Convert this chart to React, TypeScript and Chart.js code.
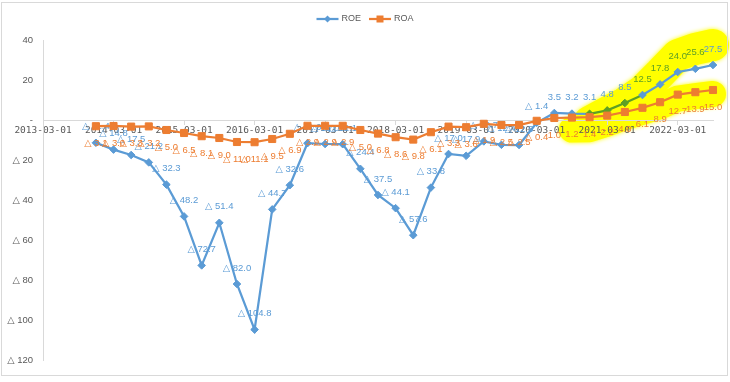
import React, { useEffect, useRef } from 'react';
import { Chart, registerables } from 'chart.js';

Chart.register(...registerables);

const categories = [
  '2013-03-01', '2013-06-01', '2013-09-01', '2013-12-01',
  '2014-03-01', '2014-06-01', '2014-09-01', '2014-12-01',
  '2015-03-01', '2015-06-01', '2015-09-01', '2015-12-01',
  '2016-03-01', '2016-06-01', '2016-09-01', '2016-12-01',
  '2017-03-01', '2017-06-01', '2017-09-01', '2017-12-01',
  '2018-03-01', '2018-06-01', '2018-09-01', '2018-12-01',
  '2019-03-01', '2019-06-01', '2019-09-01', '2019-12-01',
  '2020-03-01', '2020-06-01', '2020-09-01', '2020-12-01',
  '2021-03-01', '2021-06-01', '2021-09-01', '2021-12-01',
  '2022-03-01', '2022-06-01', '2022-09-01',
];

const roe: (number | null)[] = [
  null, null, null, -11.4,
  -14.8, -17.5, -21.2, -32.3,
  -48.2, -72.7, -51.4, -82.0,
  -104.8, -44.7, -32.6, -11.6,
  -12.0, -12.1, -24.4, -37.5,
  -44.1, -57.6, -33.8, -17.0,
  -17.9, -10.7, -12.4, -12.5,
  -1.4, 3.5, 3.2, 3.1,
  4.8, 8.5, 12.5, 17.8,
  24.0, 25.6, 27.5,
];

const roa: (number | null)[] = [
  null, null, null, -3.1,
  -3.0, -3.3, -3.2, -5.0,
  -6.5, -8.1, -9.0, -11.0,
  -11.1, -9.5, -6.9, -2.9,
  -2.9, -2.9, -5.0, -6.8,
  -8.6, -9.8, -6.1, -3.3,
  -3.6, -1.9, -2.5, -2.5,
  -0.4, 1.0, 1.2, 1.4,
  2.2, 4.0, 6.1, 8.9,
  12.7, 13.9, 15.0,
];

const yTicks = [40, 20, 0, -20, -40, -60, -80, -100, -120];
const seriesNames = ['ROE', 'ROA'];

// highlighted (green) part of the ROE line
const greenFrom = ['2020-12-01', '2021-03-01', '2021-06-01'];
const greenLabels = ['2021-09-01', '2021-12-01', '2022-03-01', '2022-06-01'];
// yellow highlighter ranges
const roeGlowStart = '2020-12-01';
const roaGlowStart = '2020-09-01';

const BLUE = '#5B9BD5';
const ORANGE = '#ED7D31';
const GREEN = '#5E9F25';
const YELLOW = '#FFFF00';
const GRAY_TEXT = '#595959';
const AXIS = '#D9D9D9';
const FONT = "'Liberation Sans', 'DejaVu Sans', sans-serif";

const fmtAxis = (v: number) => (v === 0 ? '-' : v < 0 ? '\u25B3 ' + Math.abs(v) : String(v));
const fmtLabel = (v: number) => (v < 0 ? '\u25B3 ' + Math.abs(v).toFixed(1) : v.toFixed(1));

export default function App() {
  const ref = useRef<HTMLCanvasElement | null>(null);

  useEffect(() => {
    if (!ref.current) return;
    const greenIdx = greenFrom.map((c) => categories.indexOf(c));
    const greenLblIdx = greenLabels.map((c) => categories.indexOf(c));

    const glowPlugin = {
      id: 'glow',
      beforeDraw(chart: any) {
        const ctx = chart.ctx;
        const draw = (dsIndex: number, start: number, offsets: number[], width: number) => {
          const meta = chart.getDatasetMeta(dsIndex);
          ctx.save();
          ctx.strokeStyle = YELLOW;
          ctx.lineWidth = width;
          ctx.lineJoin = 'round';
          ctx.lineCap = 'round';
          ctx.shadowColor = YELLOW;
          ctx.shadowBlur = 4;
          ctx.beginPath();
          for (let i = start, k = 0; i < meta.data.length; i++, k++) {
            const el = meta.data[i];
            const off = offsets[Math.min(k, offsets.length - 1)];
            if (k === 0) ctx.moveTo(el.x, el.y + off);
            else ctx.lineTo(el.x, el.y + off);
          }
          ctx.stroke();
          ctx.restore();
        };
        draw(1, categories.indexOf(roaGlowStart), [12, 12, 8, 5, 4, 4, 4, 4, 4], 26);
        draw(0, categories.indexOf(roeGlowStart), [8, 2, 0, -4, -11, -17, -20, -20], 32);
      },
    };

    const labelPlugin = {
      id: 'dlabels',
      afterDatasetDraw(chart: any, args: any) {
        const i = args.index;
        const meta = chart.getDatasetMeta(i);
        const data = chart.data.datasets[i].data as (number | null)[];
        const ctx = chart.ctx;
        ctx.save();
        ctx.font = `9.5px ${FONT}`;
        ctx.textAlign = 'center';
        ctx.textBaseline = 'middle';
        meta.data.forEach((el: any, j: number) => {
          const v = data[j];
          if (v === null || v === undefined) return;
          if (i === 0) {
            ctx.fillStyle = greenLblIdx.includes(j) ? GREEN : BLUE;
            ctx.fillText(fmtLabel(v), el.x, el.y - 16);
          } else {
            ctx.fillStyle = ORANGE;
            ctx.fillText(fmtLabel(v), el.x, el.y + 17);
          }
        });
        ctx.restore();
      },
    };

    const legendPlugin = {
      id: 'customLegend',
      afterDraw(chart: any) {
        const ctx = chart.ctx;
        ctx.save();
        ctx.font = `9px ${FONT}`;
        ctx.textBaseline = 'middle';
        const lineLen = 22;
        const gap = 3;
        const spacing = 8;
        const widths = seriesNames.map((n) => lineLen + gap + ctx.measureText(n).width);
        const total = widths.reduce((a, b) => a + b, 0) + spacing * (widths.length - 1);
        let x = chart.width / 2 - total / 2;
        const y = 19;
        seriesNames.forEach((n, k) => {
          const col = k === 0 ? BLUE : ORANGE;
          ctx.strokeStyle = col;
          ctx.lineWidth = 2.25;
          ctx.beginPath();
          ctx.moveTo(x, y);
          ctx.lineTo(x + lineLen, y);
          ctx.stroke();
          ctx.fillStyle = col;
          const cx = x + lineLen / 2;
          ctx.beginPath();
          if (k === 0) {
            ctx.moveTo(cx - 3.5, y);
            ctx.lineTo(cx, y - 3.5);
            ctx.lineTo(cx + 3.5, y);
            ctx.lineTo(cx, y + 3.5);
            ctx.closePath();
          } else {
            ctx.rect(cx - 3.5, y - 3.5, 7, 7);
          }
          ctx.fill();
          ctx.fillStyle = GRAY_TEXT;
          ctx.fillText(n, x + lineLen + gap, y);
          x += widths[k] + spacing;
        });
        ctx.restore();
      },
    };

    const chart = new Chart(ref.current, {
      type: 'line',
      data: {
        labels: categories,
        datasets: [
          {
            label: seriesNames[0],
            data: roe,
            borderColor: BLUE,
            backgroundColor: BLUE,
            borderWidth: 2.25,
            pointStyle: 'rectRot',
            pointRadius: 3.8,
            pointBorderWidth: 1,
            pointBackgroundColor: (c: any) => (greenIdx.includes(c.dataIndex) ? GREEN : BLUE),
            pointBorderColor: (c: any) => (greenIdx.includes(c.dataIndex) ? GREEN : BLUE),
            segment: {
              borderColor: (c: any) => (greenIdx.includes(c.p0DataIndex) ? GREEN : BLUE),
            },
            tension: 0,
            order: 2,
          } as any,
          {
            label: seriesNames[1],
            data: roa,
            borderColor: ORANGE,
            backgroundColor: ORANGE,
            borderWidth: 2.25,
            pointStyle: 'rect',
            pointRadius: 5,
            pointBorderWidth: 1,
            pointBackgroundColor: ORANGE,
            pointBorderColor: ORANGE,
            tension: 0,
            order: 1,
          } as any,
        ],
      },
      options: {
        animation: false,
        responsive: false,
        devicePixelRatio: 1,
        layout: { padding: { left: 0, right: 17, top: 40, bottom: 22 } },
        plugins: {
          legend: { display: false },
          tooltip: { enabled: false },
        },
        scales: {
          x: {
            type: 'category',
            position: { y: 0 } as any,
            offset: false,
            grid: {
              display: true,
              drawOnChartArea: false,
              drawTicks: true,
              tickLength: 4,
              color: (c: any) => (c.index % 4 === 0 ? AXIS : 'rgba(0,0,0,0)'),
            },
            border: { display: true, color: AXIS, width: 1 },
            ticks: {
              autoSkip: false,
              maxRotation: 0,
              minRotation: 0,
              padding: 1,
              color: GRAY_TEXT,
              font: { family: "'DejaVu Sans Mono', monospace", size: 9.5 },
              callback: (_v: any, i: number) => (i % 4 === 0 ? categories[i] : ''),
            },
            afterFit: (s: any) => {
              s.height = 0;
            },
          } as any,
          y: {
            min: yTicks[yTicks.length - 1],
            max: yTicks[0],
            grid: { display: false, drawTicks: false },
            border: { display: true, color: AXIS, width: 1 },
            afterBuildTicks: (s: any) => {
              s.ticks = yTicks.map((v) => ({ value: v }));
            },
            ticks: {
              padding: 10,
              color: GRAY_TEXT,
              font: { family: FONT, size: 9.5 },
              callback: (v: any) => fmtAxis(Number(v)),
            },
            afterFit: (s: any) => {
              s.width = 43;
            },
          } as any,
        },
      },
      plugins: [glowPlugin, labelPlugin, legendPlugin],
    } as any);

    return () => chart.destroy();
  }, []);

  return (
    <div style={{ position: 'absolute', left: 0, top: 0, width: 730, height: 382, background: '#fff' }}>
      <canvas ref={ref} width={730} height={382} style={{ width: 730, height: 382, display: 'block' }} />
      <div
        style={{
          position: 'absolute',
          left: 1,
          top: 2,
          width: 727,
          height: 374,
          border: `1px solid ${AXIS}`,
          boxSizing: 'border-box',
          pointerEvents: 'none',
        }}
      />
    </div>
  );
}
